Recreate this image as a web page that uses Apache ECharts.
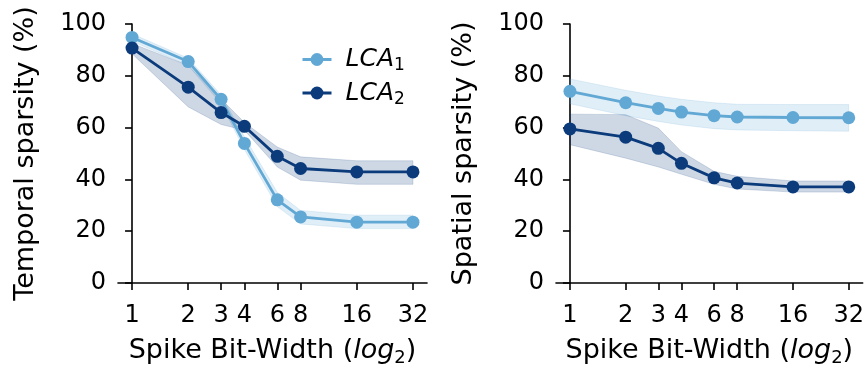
<!DOCTYPE html>
<html>
<head>
<meta charset="utf-8">
<script src="https://cdn.jsdelivr.net/npm/echarts@6/dist/echarts.min.js"></script>
<style>
  html, body { margin: 0; padding: 0; background: #ffffff; }
  #chart { width: 867px; height: 372px; }
</style>
</head>
<body>
<div id="chart"></div>
<script>
// Spike bit-widths (x axis, log2 scale)
const bitWidths = [1, 2, 3, 4, 6, 8, 16, 32];
const yTicks = [0, 20, 40, 60, 80, 100];

// Temporal sparsity (%) — mean and shaded range
const temporalLCA1   = [94.8, 85.5, 70.9, 53.9, 32.1, 25.5, 23.5, 23.5];
const temporalLCA1Lo = [93.3, 84.0, 69.2, 51.5, 29.5, 22.8, 21.0, 21.0];
const temporalLCA1Hi = [96.2, 86.8, 72.6, 56.5, 35.0, 28.0, 26.2, 26.2];
const temporalLCA2   = [90.7, 75.6, 65.8, 60.5, 48.9, 44.2, 42.9, 42.9];
const temporalLCA2Lo = [88.5, 68.0, 61.2, 59.0, 44.8, 39.7, 38.1, 38.1];
const temporalLCA2Hi = [92.5, 84.0, 71.0, 62.0, 52.5, 48.7, 47.2, 47.2];

// Spatial sparsity (%) — mean and shaded range
const spatialLCA1   = [74.0, 69.6, 67.4, 66.0, 64.6, 64.1, 63.9, 63.8];
const spatialLCA1Lo = [69.2, 64.6, 62.4, 61.0, 59.6, 59.1, 58.8, 58.6];
const spatialLCA1Hi = [78.8, 74.4, 72.2, 70.9, 69.6, 69.0, 68.9, 68.9];
const spatialLCA2   = [59.5, 56.3, 52.0, 46.2, 40.6, 38.6, 37.1, 37.1];
const spatialLCA2Lo = [53.4, 48.2, 44.8, 42.0, 38.1, 36.3, 35.1, 35.1];
const spatialLCA2Hi = [65.2, 65.0, 59.8, 50.7, 43.1, 41.2, 39.4, 39.4];

const COLOR_1 = '#62a8d5';
const COLOR_2 = '#0b3b7b';
const BAND_1 = 'rgba(98,168,213,0.2)';
const BAND_2 = 'rgba(11,59,123,0.2)';
const FONT = 'DejaVu Sans';
const TICK_SIZE = 24;
const TITLE_SIZE = 27;

const xLog = bitWidths.map(b => Math.log2(b));

function xAxis(gridIndex) {
  return {
    type: 'value', gridIndex, min: -0.25, max: 5.25,
    name: '{n|Spike Bit-Width (}{it|log}{sub|2}{n|)}',
    nameLocation: 'middle', nameGap: 52,
    nameTextStyle: {
      fontFamily: FONT, fontSize: TITLE_SIZE, color: '#000',
      rich: {
        n:   { fontFamily: FONT, fontSize: TITLE_SIZE, color: '#000', lineHeight: 32, verticalAlign: 'middle' },
        it:  { fontFamily: FONT, fontSize: TITLE_SIZE, color: '#000', fontStyle: 'italic', lineHeight: 32, verticalAlign: 'middle' },
        sub: { fontFamily: FONT, fontSize: 18, color: '#000', lineHeight: 18, verticalAlign: 'bottom' }
      }
    },
    axisLine: { show: true, onZero: false, lineStyle: { color: '#000', width: 1.6 } },
    axisTick: { show: true, inside: false, length: 7, lineStyle: { color: '#000', width: 1.6 }, customValues: xLog },
    axisLabel: {
      fontFamily: FONT, fontSize: TICK_SIZE, color: '#000', margin: 21,
      customValues: xLog,
      formatter: v => String(Math.round(Math.pow(2, v)))
    },
    splitLine: { show: false }
  };
}

function yAxis(gridIndex, title) {
  return {
    type: 'value', gridIndex, min: 0, max: 100, interval: 20,
    name: title, nameLocation: 'middle', nameGap: 79,
    nameTextStyle: { fontFamily: FONT, fontSize: TITLE_SIZE, color: '#000' },
    axisLine: { show: true, lineStyle: { color: '#000', width: 1.6 } },
    axisTick: { show: true, inside: false, length: 7, lineStyle: { color: '#000', width: 1.6 } },
    axisLabel: { fontFamily: FONT, fontSize: TICK_SIZE, color: '#000', margin: 12,
      customValues: yTicks },
    splitLine: { show: false }
  };
}

// Shaded range drawn as one polygon through the axis scales
function band(gridIndex, lo, hi, fill, z) {
  return {
    type: 'custom', xAxisIndex: gridIndex, yAxisIndex: gridIndex, silent: true, z,
    data: xLog.map((x, i) => [x, lo[i], hi[i]]),
    encode: { x: 0, y: [1, 2] },
    renderItem(params, api) {
      if (params.dataIndex !== 0) return null;
      const n = lo.length, pts = [];
      for (let i = 0; i < n; i++) pts.push(api.coord([api.value(0, i), api.value(2, i)]));
      for (let i = n - 1; i >= 0; i--) pts.push(api.coord([api.value(0, i), api.value(1, i)]));
      return { type: 'polygon', shape: { points: pts }, style: { fill, stroke: fill, lineWidth: 0.8 } };
    }
  };
}

function line(gridIndex, name, values, color, z) {
  return {
    type: 'line', name, xAxisIndex: gridIndex, yAxisIndex: gridIndex, z,
    data: xLog.map((x, i) => [x, values[i]]),
    symbol: 'circle', symbolSize: 13, showSymbol: true,
    itemStyle: { color },
    lineStyle: { color, width: 2.8 },
    emphasis: { disabled: true }
  };
}

const chart = echarts.init(document.getElementById('chart'), null, { renderer: 'canvas' });
chart.setOption({
  animation: false,
  backgroundColor: '#ffffff',
  grid: [
    { left: 118, top: 24, width: 309, height: 264 },
    { left: 556, top: 24, width: 309, height: 264 }
  ],
  xAxis: [xAxis(0), xAxis(1)],
  yAxis: [yAxis(0, 'Temporal sparsity (%)'), yAxis(1, 'Spatial sparsity (%)')],
  legend: {
    data: ['LCA1', 'LCA2'],
    left: 296, top: 42, orient: 'vertical',
    itemWidth: 29, itemHeight: 16, itemGap: 6,
    lineStyle: { width: 3 },
    formatter: name => '{i|LCA}{s|' + name.slice(3) + '}',
    textStyle: {
      fontFamily: FONT, fontSize: 25, color: '#000', padding: [0, 0, 0, 9],
      rich: {
        i: { fontFamily: FONT, fontSize: 25, fontStyle: 'italic', color: '#000', lineHeight: 30, verticalAlign: 'middle' },
        s: { fontFamily: FONT, fontSize: 17, color: '#000', lineHeight: 17, verticalAlign: 'bottom' }
      }
    }
  },
  series: [
    band(0, temporalLCA1Lo, temporalLCA1Hi, BAND_1, 1),
    band(0, temporalLCA2Lo, temporalLCA2Hi, BAND_2, 1),
    line(0, 'LCA1', temporalLCA1, COLOR_1, 3),
    line(0, 'LCA2', temporalLCA2, COLOR_2, 4),
    band(1, spatialLCA1Lo, spatialLCA1Hi, BAND_1, 1),
    band(1, spatialLCA2Lo, spatialLCA2Hi, BAND_2, 1),
    line(1, 'LCA1', spatialLCA1, COLOR_1, 3),
    line(1, 'LCA2', spatialLCA2, COLOR_2, 4)
  ]
});
</script>
</body>
</html>
